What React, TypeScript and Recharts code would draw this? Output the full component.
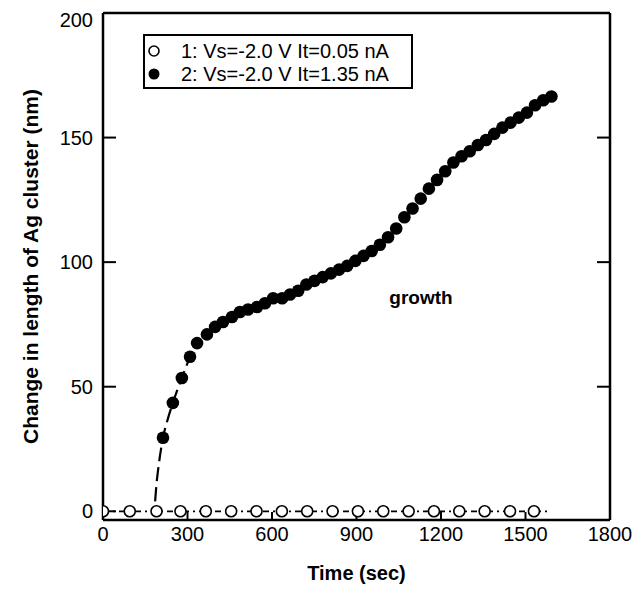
import { ComposedChart, Label, Line, ReferenceDot, ReferenceLine, Scatter, XAxis, YAxis } from 'recharts';

const FONT = '"Liberation Sans", Arial, Helvetica, sans-serif';

const X_TICKS = [0, 300, 600, 900, 1200, 1500, 1800];
const Y_TICKS = [0, 50, 100, 150, 200];

// series 1: Vs=-2.0 V, It=0.05 nA (no growth)
const OPEN_TIME = [0, 95, 190, 275, 365, 455, 545, 635, 725, 815, 905, 995, 1085, 1175, 1265, 1355, 1445, 1530];
const OPEN_LEN = [0, 0, 0, 0, 0, 0, 0, 0, 0, 0, 0, 0, 0, 0, 0, 0, 0, 0];
const BASE_TIME = [0, 1590];
const BASE_LEN = [0, 0];

// series 2: Vs=-2.0 V, It=1.35 nA
const FILLED_TIME = [
  213, 248, 280, 309, 334, 369, 398, 426, 458, 486, 515, 547, 575, 604, 636, 664, 693, 722, 751, 780, 809, 838,
  867, 896, 925, 954, 983, 1012, 1041, 1070, 1099, 1128, 1157, 1186, 1215, 1244, 1273, 1302, 1331, 1360, 1389,
  1418, 1447, 1476, 1505, 1534, 1563, 1592,
];
const FILLED_LEN = [
  29.5, 43.5, 53.5, 62, 67.5, 71, 74, 76, 78, 80, 81, 82, 83.5, 85.5, 85.5, 87, 88.5, 91, 92.5, 94, 95.5, 97,
  98.5, 100.5, 102.5, 104.5, 107, 110, 113.5, 118, 121.5, 125.5, 129.5, 133, 136.5, 140, 142.5, 144.5, 147, 149,
  151.5, 154, 156, 158, 160, 163, 165, 166.5,
];

// dashed fit at the onset
const FIT_TIME = [185, 190, 195, 202, 213, 230, 248, 265, 280, 295, 309, 335];
const FIT_LEN = [4, 11, 16, 22, 29.5, 37, 43.5, 49, 53.5, 58, 62, 67.5];

const rows = (t: number[], v: number[]) => t.map((x, i) => ({ t: x, v: v[i] }));

const openRows = rows(OPEN_TIME, OPEN_LEN);
const baseRows = rows(BASE_TIME, BASE_LEN);
const filledRows = rows(FILLED_TIME, FILLED_LEN);
const fitRows = rows(FIT_TIME, FIT_LEN);

const OpenDot = (p: any) => <circle cx={p.cx} cy={p.cy} r={5.5} fill="#fff" stroke="#000" strokeWidth={1.6} />;
const FilledDot = (p: any) => <circle cx={p.cx} cy={p.cy} r={6.3} fill="#000" />;

const XTitle = ({ viewBox }: any) => (
  <text x={viewBox.x + viewBox.width / 2} y={565} textAnchor="middle" dominantBaseline="central"
    style={{ fontFamily: FONT, fontSize: 20, fontWeight: 700 }} fill="#000">
    Time (sec)
  </text>
);

const YTitle = ({ viewBox }: any) => {
  const cx = 22;
  const cy = viewBox.y + viewBox.height / 2;
  return (
    <text x={cx} y={cy} transform={`rotate(-90 ${cx} ${cy})`} textAnchor="middle" dominantBaseline="central"
      style={{ fontFamily: FONT, fontSize: 21, fontWeight: 700 }} fill="#000">
      Change in length of Ag cluster (nm)
    </text>
  );
};

const legendRow = (top: number, filled: boolean, text: string) => (
  <div style={{ position: 'absolute', left: 0, top, height: 22, display: 'flex', alignItems: 'center' }}>
    <svg width={36} height={22} style={{ display: 'block' }}>
      {filled ? <circle cx={9} cy={11} r={5.5} fill="#000" /> : <circle cx={9} cy={11} r={5} fill="#fff" stroke="#000" strokeWidth={1.6} />}
    </svg>
    <span style={{ fontSize: 20, lineHeight: '22px', whiteSpace: 'nowrap' }}>{text}</span>
  </div>
);

export default function App() {
  const axisLine = { stroke: '#000', strokeWidth: 2.5 };
  const tickLine = { stroke: '#000', strokeWidth: 2 };
  const tickText = { fill: '#000', fontSize: 20, fontFamily: FONT };

  return (
    <div style={{ position: 'relative', width: 636, height: 591, fontFamily: FONT, background: '#fff' }}>
      <ComposedChart width={636} height={591} margin={{ top: 5, right: 33, bottom: 39, left: 25 }}>
        <XAxis type="number" dataKey="t" domain={[0, 1800]} ticks={X_TICKS} allowDataOverflow height={40}
          tickSize={-8} tickMargin={15} axisLine={axisLine} tickLine={tickLine} tick={tickText}>
          <Label content={XTitle} />
        </XAxis>
        <YAxis type="number" domain={[-3.5, 200]} ticks={Y_TICKS} allowDataOverflow width={70}
          tickSize={-13} tickMargin={23} axisLine={axisLine} tickLine={tickLine} tick={tickText}>
          <Label content={YTitle} />
        </YAxis>
        <YAxis yAxisId="right" orientation="right" type="number" domain={[-3.5, 200]} ticks={[50, 100, 150]}
          allowDataOverflow width={1} tickSize={-13} axisLine={axisLine} tickLine={tickLine}
          tick={{ fontSize: 1, fill: 'none' }} tickFormatter={() => ''} />

        <ReferenceLine y={200} stroke="#000" strokeWidth={2.5} ifOverflow="visible" />

        <Line data={baseRows} dataKey="v" type="linear" stroke="#000" strokeWidth={1.8} strokeDasharray="6 4 2 4"
          dot={false} activeDot={false} isAnimationActive={false} />
        <Line data={fitRows} dataKey="v" type="monotone" stroke="#000" strokeWidth={2.2} strokeDasharray="14 6"
          dot={false} activeDot={false} isAnimationActive={false} />
        <Scatter data={openRows} dataKey="v" shape={OpenDot} isAnimationActive={false} />
        <Scatter data={filledRows} dataKey="v" shape={FilledDot} isAnimationActive={false} />

        <ReferenceDot x={1129} y={86} r={0} ifOverflow="visible" stroke="none"
          label={{ value: 'growth', position: 'center', fill: '#000', fontSize: 19, fontWeight: 700, fontFamily: FONT }} />
      </ComposedChart>

      <div style={{ position: 'absolute', left: 135, top: 26, width: 270, height: 55, border: '2px solid #000',
        boxSizing: 'border-box', background: '#fff' }}>
        {legendRow(4, false, '1: Vs=-2.0 V It=0.05 nA')}
        {legendRow(27, true, '2: Vs=-2.0 V It=1.35 nA')}
      </div>
    </div>
  );
}
